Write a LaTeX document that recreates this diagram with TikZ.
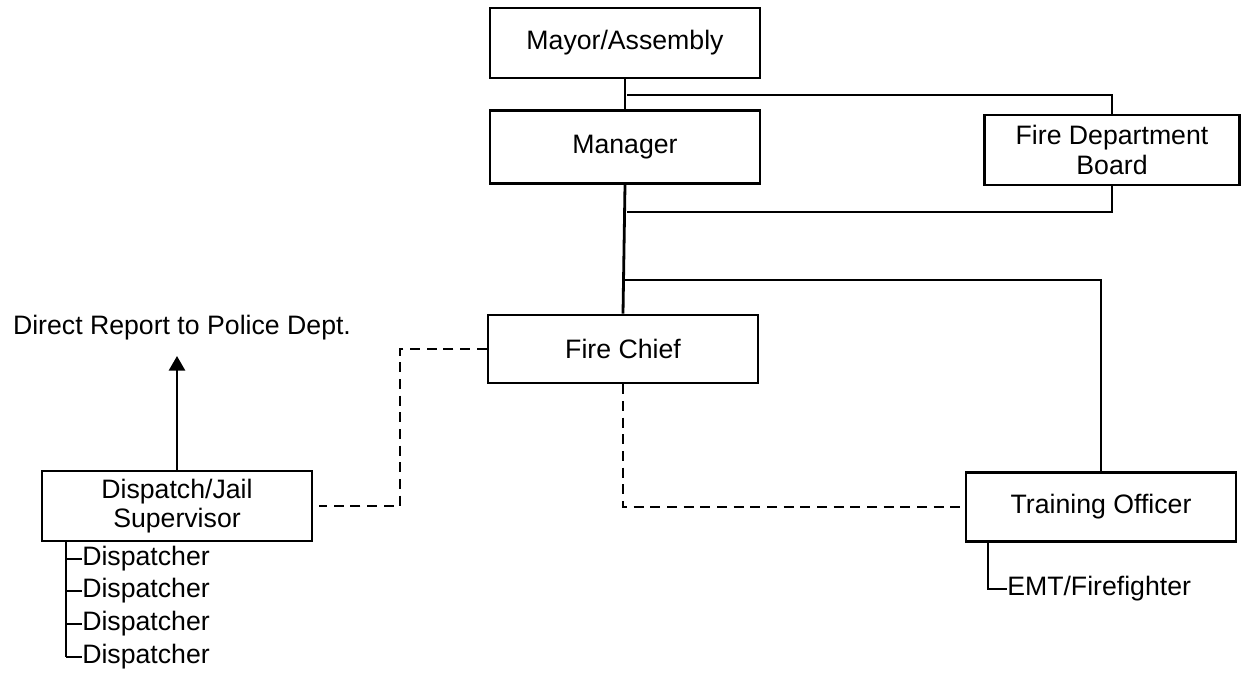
\documentclass[tikz,border=0pt]{standalone}
\usepackage{fontspec}
\setmainfont{Liberation Sans}
\usetikzlibrary{arrows.meta}
\newcommand{\myDispatchers}{%%
  %% Draw the dispatchers hanging below the supervisor.
  \coordinate (dispTrunk) at (66,541);
  \foreach \n/\y in {1/559,2/591,3/624,4/657}{
    \node[leafStyle] (disp\n) at (82,\y) {Dispatcher};
    \draw[lineStyle] (disp\n.west -| dispTrunk) -- (disp\n.west);
  }
  \draw[lineStyle] (dispTrunk) -- (dispTrunk |- disp4.west);
}
\newcommand{\myTraining}{%%
  %% Draw the firefighter hanging below the training officer.
  \coordinate (emtTrunk) at (988,541);
  \node[leafStyle] (emt) at (1007,589) {EMT/Firefighter};
  \draw[lineStyle] (emtTrunk) |- (emt.west);
}

\begin{document}
\begin{tikzpicture}[%%
  x=0.75pt,y=-0.75pt,
  lineStyle/.style={-,line width=2.1pt},%%
  dashStyle/.style={lineStyle,dash pattern=on 7.5pt off 5pt},%%
  boxStyle/.style={draw,line width=2.1pt,minimum width=202.5pt,
    minimum height=52.5pt,inner sep=0pt,align=center,
    font=\fontsize{20pt}{22pt}\selectfont},%%
  leafStyle/.style={anchor=west,inner sep=0pt,
    font=\fontsize{20pt}{22pt}\selectfont}
]
\useasboundingbox (0,0) rectangle (1243,673);
%%
%% The boxes.
\node[boxStyle] (mayor) at (625,43) {Mayor/Assembly};
\node[boxStyle,minimum height=54.75pt] (manager) at (625,147) {Manager};
\node[boxStyle,minimum width=191.25pt] (board) at (1112,150)
  {Fire Department\\Board};
\node[boxStyle,minimum height=51pt] (chief) at (623,349) {Fire Chief};
\node[boxStyle] (dispatch) at (177,506) {Dispatch/Jail\\Supervisor};
\node[boxStyle,minimum width=202.5pt,minimum height=51.75pt] (training)
  at (1101,507) {Training Officer};
\node[leafStyle,anchor=center] (police) at (182,328)
  {Direct Report to Police Dept.};
%%
%% Solid reporting lines.
\coordinate (boardJoin) at (627,95);
\coordinate (boardBack) at (627,212);
\coordinate (trainJoin) at (625,280);
\coordinate (policeTip) at (177,356);
\draw[lineStyle] (mayor.south) -- (manager.north);
\draw[lineStyle] (boardJoin) -| (board.north);
\draw[lineStyle] (manager.south) -- (chief.north);
\draw[lineStyle] (board.south) |- (boardBack);
\draw[lineStyle] (trainJoin) -| (training.north);
\draw[lineStyle,-{Triangle[length=11pt,width=12pt]}] (dispatch.north)
  -- (policeTip);
%%
%% Dashed lines.
\coordinate (dashKnee) at (400,349);
\draw[dashStyle] (chief.west) -- (dashKnee) |- ([xshift=4pt]dispatch.east);
\draw[dashStyle] (chief.south) |- (training.west);
%%
\myDispatchers
\myTraining
\end{tikzpicture}
\end{document}
